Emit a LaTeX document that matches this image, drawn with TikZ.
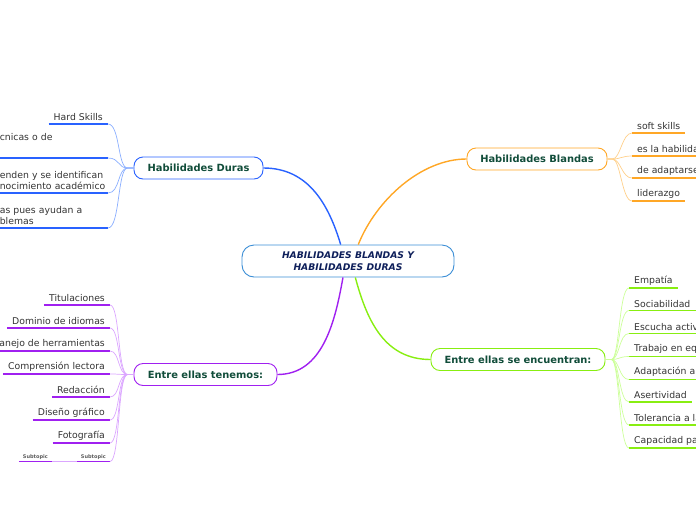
\documentclass[tikz,border=0pt]{standalone}
\usepackage{fontspec}
\setmainfont{DejaVu Sans}
\definecolor{cblue}{HTML}{2962FF}
\definecolor{cbluel}{HTML}{8AAEFF}
\definecolor{cctr}{HTML}{3B8ED6}
\definecolor{corange}{HTML}{FFA726}
\definecolor{corangel}{HTML}{FFD08A}
\definecolor{cpurple}{HTML}{A020F0}
\definecolor{cpurplel}{HTML}{DBA6FF}
\definecolor{cgreen}{HTML}{88EE11}
\definecolor{cgreenl}{HTML}{CCFF99}
\definecolor{topictext}{HTML}{114D3A}
\definecolor{ctrtext}{HTML}{0E1F5A}
\definecolor{subtext}{HTML}{333333}
\begin{document}
\begin{tikzpicture}[x=1pt,y=-1pt,
  topic/.style={draw, fill=white, rounded corners=9pt, line width=0.9pt, minimum height=22pt,
    inner sep=0pt, font=\fontsize{9.9}{11}\selectfont\bfseries, text=topictext},
  sub/.style={font=\fontsize{9.3}{11.5}\selectfont, text=subtext, inner xsep=5pt, inner ysep=2.8pt},
  wide/.style={anchor=south east, text width=104pt, align=left, inner xsep=4pt},
  tiny/.style={font=\fontsize{5}{6}\selectfont\bfseries, text=subtext!80, inner xsep=4pt, inner ysep=1.5pt},
  mainc/.style={line width=1.4pt},
  childc/.style={line width=0.7pt},
  ul/.style={line width=1.6pt}
]
\useasboundingbox (0,0) rectangle (696,520);
\clip (0,0) rectangle (696,520);

% central
\node[draw=cctr, fill=white, rounded corners=12pt, line width=0.9pt, minimum width=212pt, minimum height=32pt,
  inner sep=0pt, align=center, text=ctrtext, font=\fontsize{9.2}{12}\selectfont\bfseries\itshape]
  (ctr) at (348,261) {HABILIDADES BLANDAS Y\\HABILIDADES DURAS};

% main topics
\node[topic, draw=cblue, minimum width=129pt] (duras) at (198.5,168) {Habilidades Duras};
\node[topic, draw=corange, minimum width=140pt] (blandas) at (537,159) {Habilidades Blandas};
\node[topic, draw=cpurple, minimum width=143pt] (tenemos) at (205.5,374.5) {Entre ellas tenemos:};
\node[topic, draw=cgreen, minimum width=174pt] (encuentran) at (518,359.5) {Entre ellas se encuentran:};

% main connectors
\draw[mainc, cblue] (duras.east) .. controls +(45,0) and +(-12,-40) .. (ctr.114);
\draw[mainc, corange] (ctr.58) .. controls +(18,-45) and +(-45,0) .. (blandas.west);
\draw[mainc, cpurple] (ctr.253) .. controls +(-8,45) and +(45,0) .. (tenemos.east);
\draw[mainc, cgreen] (ctr.294) .. controls +(12,45) and +(-45,0) .. (encuentran.west);

% Habilidades Duras children
\node[sub, anchor=south east] (d1) at (108,124) {Hard Skills};
\node[sub, wide] (d2) at (108,158) {\mbox{cnicas o de}\\\strut};
\node[sub, wide] (d3) at (108,193) {\mbox{enden y se identifican}\\\mbox{nocimiento académico}};
\node[sub, wide] (d4) at (108,228) {\mbox{as pues ayudan a}\\\mbox{blemas}};
\foreach \n in {d1,d2,d3,d4}{
  \draw[ul, cblue] (\n.south west) -- (\n.south east);
  \draw[childc, cbluel] (duras.west) -- ++(-6,0) .. controls +(-10,0) and +(12,0) .. (\n.south east);
}

% Habilidades Blandas children
\node[sub, anchor=south west] (b1) at (632,133) {soft skills};
\node[sub, anchor=south west] (b2) at (632,156) {es la habilidad};
\node[sub, anchor=south west] (b3) at (632,178) {de adaptarse};
\node[sub, anchor=south west] (b4) at (632,201) {liderazgo};
\foreach \n in {b1,b2,b3,b4}{
  \draw[ul, corange] (\n.south west) -- (\n.south east);
  \draw[childc, corangel] (blandas.east) -- ++(5,0) .. controls +(8,0) and +(-10,0) .. (\n.south west);
}

% Entre ellas tenemos children
\node[sub, anchor=south east] (t1) at (110,305) {Titulaciones};
\node[sub, anchor=south east] (t2) at (110,328) {Dominio de idiomas};
\node[sub, anchor=south east] (t3) at (110,351) {Manejo de herramientas};
\node[sub, anchor=south east] (t4) at (110,374) {Comprensión lectora};
\node[sub, anchor=south east] (t5) at (110,397) {Redacción};
\node[sub, anchor=south east] (t6) at (110,420) {Diseño gráfico};
\node[sub, anchor=south east] (t7) at (110,443) {Fotografía};
\node[tiny, anchor=south east] (t8) at (110,461.5) {Subtopic};
\node[tiny, anchor=south east] (t9) at (52,461.5) {Subtopic};
\foreach \n in {t1,t2,t3,t4,t5,t6,t7,t8}{
  \draw[ul, cpurple] (\n.south west) -- (\n.south east);
  \draw[childc, cpurplel] (tenemos.west) -- ++(-6,0) .. controls +(-10,0) and +(10,0) .. (\n.south east);
}
\draw[ul, cpurple] (t9.south west) -- (t9.south east);
\draw[line width=1.2pt, cpurplel] (t8.south west) -- (t9.south east);

% Entre ellas se encuentran children
\node[sub, anchor=south west] (e1) at (629,288) {Empatía};
\node[sub, anchor=south west] (e2) at (629,310.5) {Sociabilidad};
\node[sub, anchor=south west] (e3) at (629,333.5) {Escucha activa};
\node[sub, anchor=south west] (e4) at (629,356.5) {Trabajo en equipo};
\node[sub, anchor=south west] (e5) at (629,379.5) {Adaptación a};
\node[sub, anchor=south west] (e6) at (629,402) {Asertividad};
\node[sub, anchor=south west] (e7) at (629,425) {Tolerancia a la};
\node[sub, anchor=south west] (e8) at (629,448) {Capacidad para};
\foreach \n in {e1,e2,e3,e4,e5,e6,e7,e8}{
  \draw[ul, cgreen] (\n.south west) -- (\n.south east);
  \draw[childc, cgreenl] (encuentran.east) -- ++(6,0) .. controls +(8,0) and +(-10,0) .. (\n.south west);
}
\end{tikzpicture}
\end{document}
